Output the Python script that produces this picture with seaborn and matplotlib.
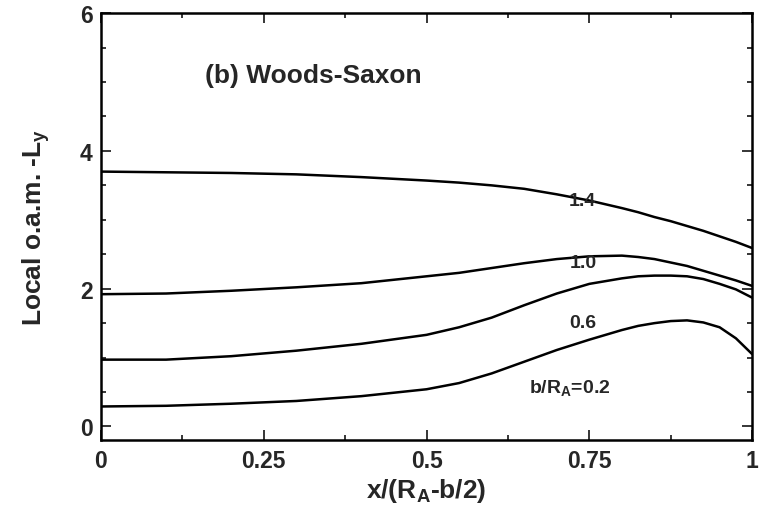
import numpy as np
import pandas as pd
import matplotlib
matplotlib.use("Agg")
import matplotlib.pyplot as plt
import seaborn as sns
from matplotlib.ticker import MultipleLocator, FixedLocator

sns.set_style("ticks")
plt.rcParams['font.family'] = ['Liberation Sans', 'DejaVu Sans']
plt.rcParams['font.weight'] = 'bold'
plt.rcParams['mathtext.fontset'] = 'custom'
plt.rcParams['mathtext.bf'] = 'Liberation Sans:bold'
plt.rcParams['mathtext.rm'] = 'Liberation Sans:bold'
plt.rcParams['mathtext.default'] = 'bf'

x_vals = [0, 0.1, 0.2, 0.3, 0.4, 0.5, 0.55, 0.6, 0.65, 0.7, 0.75, 0.8, 0.825, 0.85, 0.875, 0.9, 0.925, 0.95, 0.975, 1.0]
y_14 = [3.70, 3.69, 3.68, 3.66, 3.62, 3.57, 3.54, 3.50, 3.45, 3.37, 3.28, 3.17, 3.11, 3.04, 2.98, 2.91, 2.84, 2.76, 2.68, 2.59]
y_10 = [1.92, 1.93, 1.97, 2.02, 2.08, 2.18, 2.23, 2.30, 2.37, 2.43, 2.47, 2.48, 2.46, 2.43, 2.38, 2.33, 2.26, 2.19, 2.12, 2.04]
y_06 = [0.97, 0.97, 1.02, 1.10, 1.20, 1.33, 1.44, 1.58, 1.76, 1.93, 2.07, 2.15, 2.18, 2.19, 2.19, 2.18, 2.14, 2.07, 1.99, 1.87]
y_02 = [0.29, 0.30, 0.33, 0.37, 0.44, 0.54, 0.63, 0.77, 0.94, 1.11, 1.26, 1.40, 1.46, 1.50, 1.53, 1.54, 1.51, 1.44, 1.28, 1.05]

series_names = ["1.4", "1.0", "0.6", "b/R$_A$=0.2"]
label_pos = [(0.74, 3.28), (0.74, 2.38), (0.74, 1.51), (0.72, 0.57)]
x_ticks = [0, 0.25, 0.5, 0.75, 1]
x_ticklabels = ["0", "0.25", "0.5", "0.75", "1"]
y_ticks = [0, 2, 4, 6]

frames = []
for name, ys in zip(series_names, [y_14, y_10, y_06, y_02]):
    frames.append(pd.DataFrame({"x": x_vals, "y": ys, "s": name}))
df = pd.concat(frames, ignore_index=True)

fig = plt.figure(figsize=(7.59, 5.06), dpi=100)
ax = fig.add_axes([0.133, 0.128, 0.858, 0.844])
sns.lineplot(data=df, x="x", y="y", hue="s", palette=["black"] * 4,
             legend=False, ax=ax, linewidth=1.8, sort=True, estimator=None)

for name, (lx, ly) in zip(series_names, label_pos):
    ax.text(lx, ly, name, fontsize=14, fontweight='bold', ha='center', va='center')

ax.text(0.16, 5.1, "(b) Woods-Saxon", fontsize=19, fontweight='bold', ha='left', va='center')

ax.set_xlim(0, 1)
ax.set_ylim(-0.2, 6)
ax.xaxis.set_major_locator(FixedLocator(x_ticks))
ax.set_xticklabels(x_ticklabels)
ax.xaxis.set_minor_locator(MultipleLocator(0.125))
ax.yaxis.set_major_locator(FixedLocator(y_ticks))
ax.yaxis.set_minor_locator(MultipleLocator(0.5))
ax.tick_params(which='both', direction='in', top=True, right=True, width=1.3)
ax.tick_params(which='major', length=7, labelsize=16.5, pad=6)
ax.tick_params(which='minor', length=3.5)
for lab in ax.get_xticklabels() + ax.get_yticklabels():
    lab.set_fontweight('bold')
for sp in ax.spines.values():
    sp.set_linewidth(1.8)
    sp.set_color('black')

ax.set_xlabel("x/(R$_A$-b/2)", fontsize=19, fontweight='bold', labelpad=3)
ax.set_ylabel("Local o.a.m. -L$_y$", fontsize=19, fontweight='bold', labelpad=20)

fig.savefig("out.png", dpi=100)
